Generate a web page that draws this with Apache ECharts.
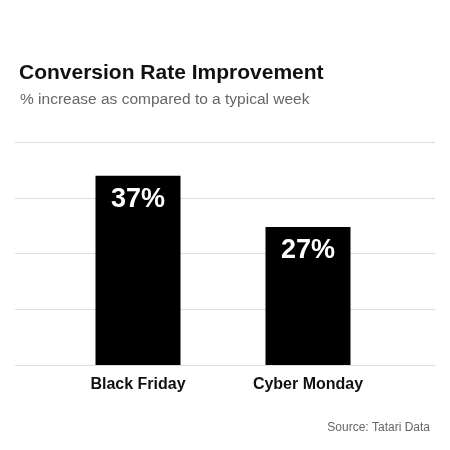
<!DOCTYPE html>
<html><head><meta charset="utf-8">
<script src="https://cdn.jsdelivr.net/npm/echarts@6/dist/echarts.min.js"></script>
<style>html,body{margin:0;padding:0;background:#fff}#c{width:450px;height:450px}</style>
</head><body><div id="c"></div>
<script>
const categories = ["Black Friday", "Cyber Monday"];
const values = [37, 27];
const yMax = 43.6, yStep = 10.9;
const F = 'Liberation Sans, Arial, sans-serif';
const chart = echarts.init(document.getElementById('c'));
chart.setOption({
  animation:false,
  title:[
    {text:'Conversion Rate Improvement', left:14, top:58, textStyle:{fontFamily:F, fontSize:21, fontWeight:'bold', color:'#111'}},
    {text:'% increase as compared to a typical week', left:15, top:87, textStyle:{fontFamily:F, fontSize:15.5, fontWeight:'normal', color:'#666'}},
    {text:'Source: Tatari Data', right:15, top:417, textStyle:{fontFamily:F, fontSize:12, fontWeight:'normal', color:'#666'}}
  ],
  grid:[
    {left:15, right:15, top:142, bottom:85},
    {left:53, right:57, top:142, bottom:85}
  ],
  xAxis:[
    {gridIndex:0, type:'category', data:categories, show:false},
    {gridIndex:1, type:'category', data:categories, axisLine:{show:false}, axisTick:{show:false},
     axisLabel:{fontFamily:F, fontSize:16, fontWeight:'bold', color:'#111', margin:12}}
  ],
  yAxis:[
    {gridIndex:0, type:'value', min:0, max:yMax, interval:yStep, axisLabel:{show:false}, axisLine:{show:false}, axisTick:{show:false}, splitLine:{lineStyle:{color:'#ddd'}}},
    {gridIndex:1, type:'value', min:0, max:yMax, interval:yStep, show:false, splitLine:{show:false}}
  ],
  series:[{
    type:'bar', xAxisIndex:1, yAxisIndex:1, data:values, barWidth:85,
    itemStyle:{color:'#000'},
    label:{show:true, position:'insideTop', distance:10, formatter:'{c}%', color:'#fff', fontFamily:F, fontSize:27, fontWeight:'bold'}
  }]
});
</script></body></html>
